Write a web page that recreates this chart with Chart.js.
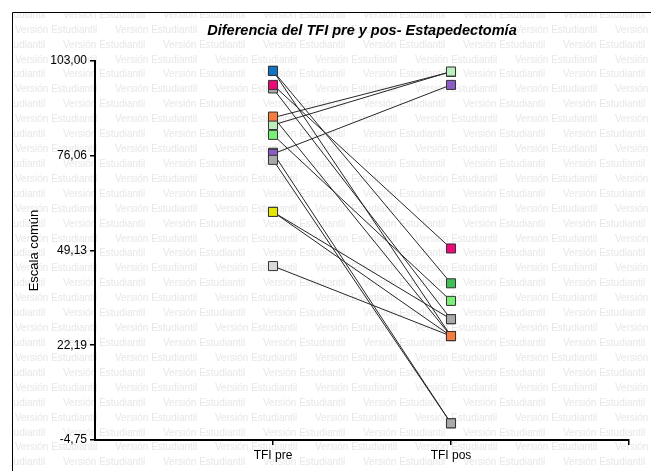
<!DOCTYPE html>
<html>
<head>
<meta charset="utf-8">
<script src="https://cdn.jsdelivr.net/npm/chart.js@4.4.1/dist/chart.umd.min.js"></script>
<style>
  body { margin: 0; background: #fff; }
  canvas { display: block; }
</style>
</head>
<body>
<canvas id="myChart" width="651" height="471"></canvas>
<script>
// datos por caso (orden = orden de dibujo, el ultimo queda encima)
const categories = ['TFI pre', 'TFI pos'];
const tfiPre = [100.2, 100.2, 60.1, 60.1, 95.2, 96.2, 86.9, 84.8, 82.0, 76.9, 76.6, 74.9, 44.7, 87.2];
const tfiPos = [39.8, 24.8, 24.8, 29.6, 29.6, 49.7, 99.9, 100.0, 34.8, 0.0, 96.2, 0.0, 24.8, 24.8];
const caseColors = ['#3fbf55', '#1173c4', '#e6e600', '#e6e600', '#a9a9a9', '#ec0a78', '#f47c3c',
  '#bdeebd', '#78f078', '#a9a9a9', '#8a5cc8', '#a9a9a9', '#d9d9d9', '#f47c3c'];
const yTicks = [-4.75, 22.19, 49.13, 76.06, 103.00];
const xTicks = [1, 2, 3];

const titleText = 'Diferencia del TFI pre y pos- Estapedectomía';
const watermark = 'Versión Estudiantil';

const fontFamily = '"Liberation Sans", Arial, sans-serif';

// lineas de cada caso
const lineSets = tfiPre.map((pre, i) => ({
  type: 'line',
  data: [{x: 1, y: pre}, {x: 2, y: tfiPos[i]}],
  borderColor: '#262626',
  borderWidth: 1,
  pointRadius: 0,
  order: 1
}));

// marcadores encima de todas las lineas
const markerData = [];
const markerColors = [];
tfiPre.forEach((pre, i) => {
  markerData.push({x: 1, y: pre});
  markerColors.push(caseColors[i]);
  markerData.push({x: 2, y: tfiPos[i]});
  markerColors.push(caseColors[i]);
});

const markerSet = {
  type: 'scatter',
  data: markerData,
  pointStyle: 'rect',
  pointRadius: 6.4,
  pointBackgroundColor: markerColors,
  pointBorderColor: '#333',
  pointBorderWidth: 1,
  order: 0
};

const backgroundPlugin = {
  id: 'fondo',
  beforeDraw(chart) {
    const ctx = chart.ctx;
    const w = chart.width, h = chart.height;
    ctx.save();
    ctx.fillStyle = '#fff';
    ctx.fillRect(0, 0, w, h);
    ctx.beginPath();
    ctx.rect(13, 13, w, h);
    ctx.clip();
    ctx.font = '10px ' + fontFamily;
    ctx.fillStyle = '#e7e7e7';
    ctx.textBaseline = 'middle';
    for (let r = 0; 15 + r * 14.92 < h + 10; r++) {
      const y = 15 + r * 14.92;
      const x0 = (r % 2 === 0) ? -37 : -85;
      for (let x = x0; x < w + 10; x += 100) ctx.fillText(watermark, x, y);
    }
    ctx.restore();

    // marco
    ctx.save();
    ctx.strokeStyle = '#000';
    ctx.lineWidth = 1;
    ctx.beginPath();
    ctx.moveTo(12.5, h);
    ctx.lineTo(12.5, 12.5);
    ctx.lineTo(w, 12.5);
    ctx.stroke();

    // titulo
    const area = chart.chartArea;
    ctx.fillStyle = '#000';
    ctx.font = 'italic bold 14.5px ' + fontFamily;
    ctx.textAlign = 'center';
    ctx.textBaseline = 'middle';
    ctx.fillText(titleText, (area.left + area.right) / 2, 31);
    ctx.restore();
  }
};

const config = {
  data: { datasets: [...lineSets, markerSet] },
  options: {
    responsive: false,
    animation: false,
    layout: { padding: { left: 0, right: 22, top: 61, bottom: 0 } },
    plugins: {
      legend: { display: false },
      tooltip: { enabled: false }
    },
    scales: {
      x: {
        type: 'linear',
        min: 0,
        max: 3,
        afterBuildTicks: s => { s.ticks = xTicks.map(v => ({value: v})); },
        afterFit: s => { s.height = 31; },
        ticks: {
          autoSkip: false,
          maxRotation: 0,
          padding: 3,
          color: '#000',
          font: { family: fontFamily, size: 12 },
          callback: v => categories[v - 1] || ''
        },
        grid: { display: true, drawOnChartArea: false, drawTicks: true, tickLength: 5, color: '#000', lineWidth: 1.5 },
        border: { display: true, color: '#000', width: 2 }
      },
      y: {
        min: -4.75,
        max: 103,
        afterBuildTicks: s => { s.ticks = yTicks.map(v => ({value: v})); },
        afterFit: s => { s.width = 95; },
        ticks: {
          autoSkip: false,
          padding: 3,
          color: '#000',
          font: { family: fontFamily, size: 12 },
          callback: v => v.toFixed(2).replace('.', ',')
        },
        title: {
          display: true,
          text: 'Escala común',
          color: '#000',
          font: { family: fontFamily, size: 13 },
          padding: { top: 27, bottom: 0 }
        },
        grid: { display: true, drawOnChartArea: false, drawTicks: true, tickLength: 5, color: '#000', lineWidth: 1.5 },
        border: { display: true, color: '#000', width: 2 }
      }
    }
  },
  plugins: [backgroundPlugin]
};

new Chart(document.getElementById('myChart'), config);
</script>
</body>
</html>
